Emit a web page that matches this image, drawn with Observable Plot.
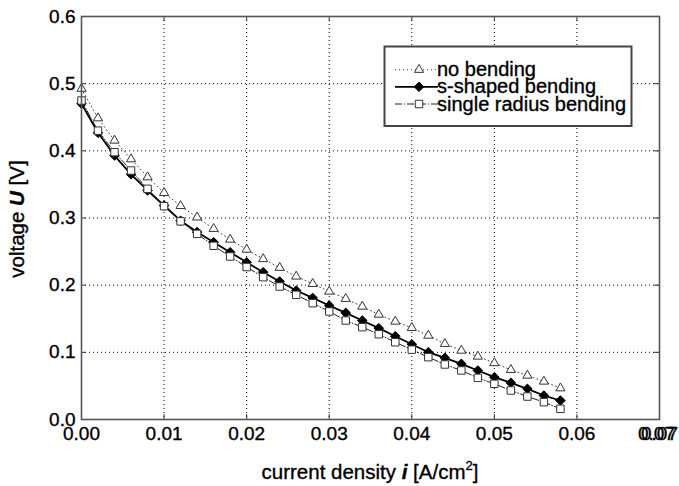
<!DOCTYPE html>
<html><head><meta charset="utf-8">
<script src="https://cdn.jsdelivr.net/npm/d3@7"></script>
<script src="https://cdn.jsdelivr.net/npm/@observablehq/plot@0.6"></script>
<style>body{margin:0;background:#fff}#chart{width:679px;height:486px}
#chart svg text{stroke:black;stroke-width:0.35px}</style>
</head><body><div id="chart"></div>
<script>
const currentDensity = [0, 0.002, 0.004, 0.006, 0.008, 0.010, 0.012, 0.014, 0.016, 0.018,
  0.020, 0.022, 0.024, 0.026, 0.028, 0.030, 0.032, 0.034, 0.036, 0.038,
  0.040, 0.042, 0.044, 0.046, 0.048, 0.050, 0.052, 0.054, 0.056, 0.058];
const noBending = [0.4925, 0.4486, 0.4154, 0.3876, 0.3608, 0.3375, 0.318, 0.301, 0.284, 0.268,
  0.253, 0.239, 0.226, 0.213, 0.202, 0.1906, 0.1797, 0.1682, 0.1563, 0.1459,
  0.1365, 0.125, 0.1127, 0.1027, 0.0938, 0.0841, 0.074, 0.0655, 0.0566, 0.0466];
const sShaped = [0.470, 0.4268, 0.393, 0.365, 0.341, 0.3186, 0.296, 0.279, 0.264, 0.249,
  0.234, 0.2193, 0.2055, 0.192, 0.181, 0.1697, 0.1588, 0.1474, 0.136, 0.124,
  0.112, 0.1002, 0.0918, 0.0829, 0.073, 0.063, 0.0546, 0.0457, 0.0357, 0.0283];
const singleRadius = [0.4749, 0.430, 0.398, 0.3707, 0.3434, 0.3176, 0.295, 0.2764, 0.2586, 0.2427,
  0.227, 0.2119, 0.198, 0.1856, 0.1732, 0.1608, 0.1474, 0.1375, 0.127, 0.115,
  0.104, 0.0928, 0.0819, 0.073, 0.062, 0.0531, 0.0432, 0.0342, 0.0258, 0.0159];
const xTicks = [0, 0.01, 0.02, 0.03, 0.04, 0.05, 0.06, 0.07];
const xTickLabels = ["0.00", "0.01", "0.02", "0.03", "0.04", "0.05", "0.06", "0.07"];
const yTicks = [0, 0.1, 0.2, 0.3, 0.4, 0.5, 0.6];
const yTickLabels = ["0.0", "0.1", "0.2", "0.3", "0.4", "0.5", "0.6"];
const seriesNames = ["no bending", "s-shaped bending", "single radius bending"];

const toRows = (vals) => currentDensity.map((x, i) => ({x, y: vals[i]}));
const rowsNo = toRows(noBending), rowsS = toRows(sShaped), rowsSingle = toRows(singleRadius);

const FONT = "'Liberation Sans', Arial, sans-serif";
const rTri = 3.4, rSq = 4.2, rDia = 4.3;
const styles = [
  {stroke: "#444", strokeWidth: 1, dash: "1,3", symbol: "triangle", d3sym: d3.symbolTriangle, r: rTri, fill: "white", mstroke: "#333"},
  {stroke: "black", strokeWidth: 1.8, dash: null, symbol: "diamond2", d3sym: d3.symbolDiamond2, r: rDia, fill: "black", mstroke: "black"},
  {stroke: "#222", strokeWidth: 1, dash: "7,2,1,2", symbol: "square", d3sym: d3.symbolSquare, r: rSq, fill: "white", mstroke: "#333"}
];
const dataSets = [rowsNo, rowsS, rowsSingle];

const marks = [
  Plot.gridX({ticks: xTicks.slice(1, -1), stroke: "black", strokeOpacity: 1, strokeDasharray: "1,3", strokeWidth: 1}),
  Plot.gridY({ticks: yTicks.slice(1, -1), stroke: "black", strokeOpacity: 1, strokeDasharray: "1,3", strokeWidth: 1}),
  Plot.ruleX(xTicks, {x: d => d, y1: 0, y2: 0.0075, stroke: "#333"}),
  Plot.ruleX(xTicks, {x: d => d, y1: 0.6, y2: 0.5925, stroke: "#333"}),
  Plot.ruleY(yTicks, {y: d => d, x1: 0, x2: 0.0006, stroke: "#333"}),
  Plot.ruleY(yTicks, {y: d => d, x1: 0.07, x2: 0.0694, stroke: "#333"})
];
dataSets.forEach((rows, k) => {
  const s = styles[k];
  marks.push(Plot.line(rows, {x: "x", y: "y", stroke: s.stroke, strokeWidth: s.strokeWidth, strokeDasharray: s.dash}));
});
dataSets.forEach((rows, k) => {
  const s = styles[k];
  marks.push(Plot.dot(rows, {x: "x", y: "y", symbol: s.symbol, r: s.r, fill: s.fill, stroke: s.mstroke, strokeWidth: 1}));
});
marks.push(
  Plot.axisX({ticks: xTicks, tickFormat: d => xTickLabels[xTicks.indexOf(d)], tickSize: 0, tickPadding: 7, fontSize: 19, label: null}),
  Plot.axisX({ticks: [0.07], tickFormat: d => xTickLabels[xTicks.indexOf(d)], tickSize: 0, tickPadding: 7, fontSize: 19, dx: -3, label: null}),
  Plot.axisY({ticks: yTicks, tickFormat: d => yTickLabels[yTicks.indexOf(d)], tickSize: 0, tickPadding: 6, fontSize: 19, label: null}),
  Plot.frame({stroke: "#555", strokeWidth: 1.6})
);

const chart = Plot.plot({
  width: 679, height: 486,
  marginLeft: 81, marginRight: 20, marginTop: 16, marginBottom: 67,
  style: {fontFamily: FONT, background: "white", color: "black"},
  x: {domain: [0, 0.07]},
  y: {domain: [0, 0.6]},
  marks
});
document.getElementById("chart").appendChild(chart);

const svg = d3.select(chart);
// axis titles
const xt = svg.append("text").attr("x", 370).attr("y", 479).attr("text-anchor", "middle")
  .attr("font-family", FONT).attr("font-size", 20.5).attr("fill", "black");
xt.append("tspan").text("current density ");
xt.append("tspan").attr("font-weight", "bold").attr("font-style", "italic").text("i");
xt.append("tspan").text(" [A/cm");
xt.append("tspan").attr("font-size", 13).attr("dy", -9).text("2");
xt.append("tspan").attr("dy", 9).text("]");

const yt = svg.append("text").attr("transform", "translate(24,219) rotate(-90)").attr("text-anchor", "middle")
  .attr("font-family", FONT).attr("font-size", 20.5).attr("fill", "black");
yt.append("tspan").text("voltage ");
yt.append("tspan").attr("font-weight", "bold").attr("font-style", "italic").text("U");
yt.append("tspan").text(" [V]");

// legend
const lg = svg.append("g").attr("text-anchor", "start");
lg.append("rect").attr("x", 384.5).attr("y", 46.5).attr("width", 247).attr("height", 79.5)
  .attr("fill", "white").attr("stroke", "#444").attr("stroke-width", 2);
const rowY = [69.7, 86.8, 104];
seriesNames.forEach((name, k) => {
  const s = styles[k], y = rowY[k];
  lg.append("line").attr("x1", 395).attr("x2", 438).attr("y1", y).attr("y2", y)
    .attr("stroke", s.stroke).attr("stroke-width", s.strokeWidth).attr("stroke-dasharray", s.dash);
  lg.append("path").attr("d", d3.symbol(s.d3sym, Math.PI * s.r * s.r)())
    .attr("transform", `translate(419,${y})`).attr("fill", s.fill).attr("stroke", s.mstroke);
  lg.append("text").attr("x", 437).attr("y", y + 6.5).attr("text-anchor", "start")
    .attr("font-family", FONT).attr("font-size", 20).attr("fill", "black").text(name);
});
</script></body></html>
